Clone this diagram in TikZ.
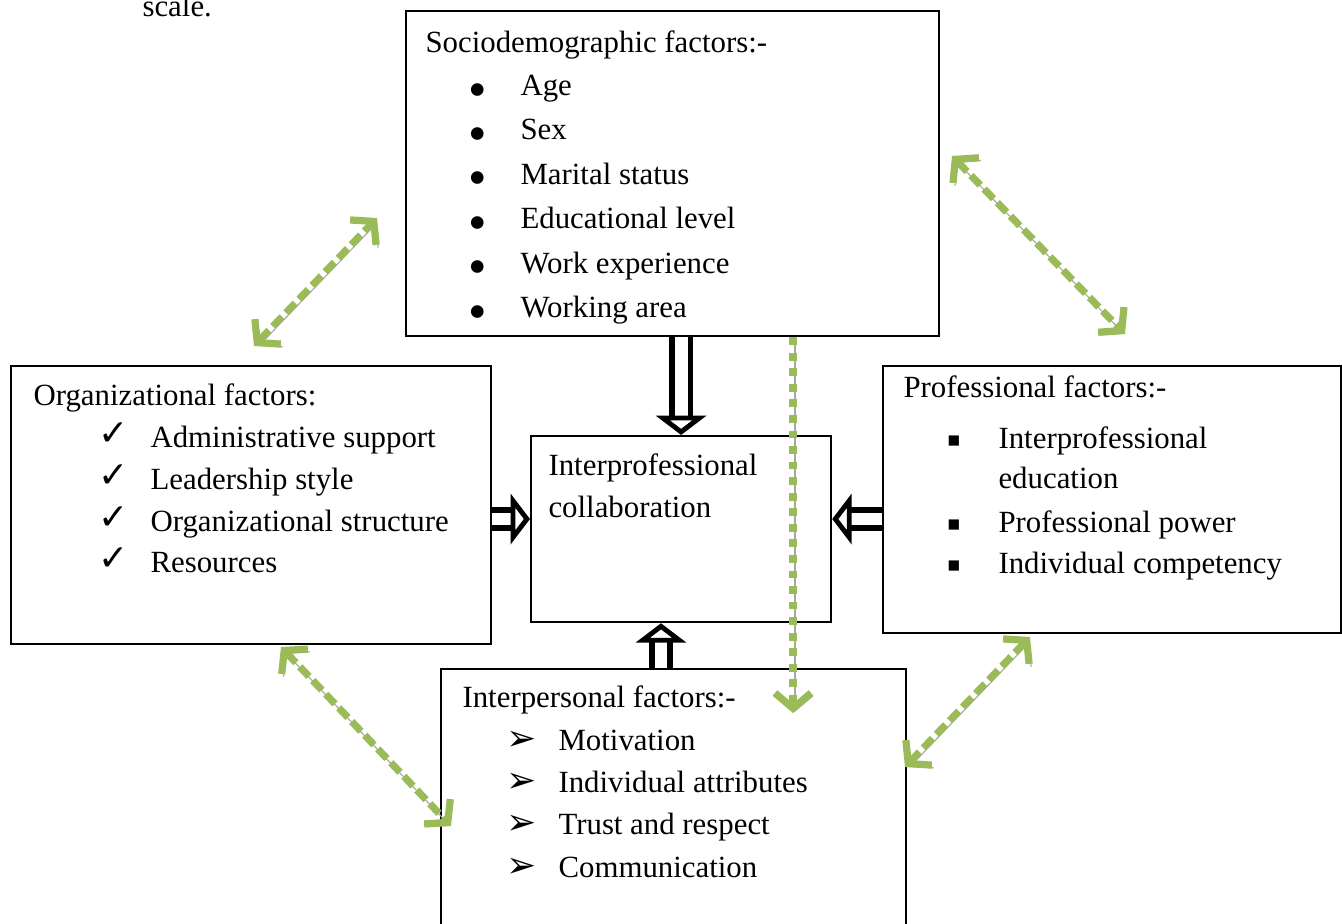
\documentclass[tikz,border=0pt]{standalone}
\usepackage{fontspec}
\setmainfont{Liberation Serif}
\newfontfamily\symfont{DejaVu Sans}
\usepackage{tikz}
\usetikzlibrary{arrows.meta}
\usepackage{xcolor}
\definecolor{leaf}{HTML}{9BBB59}
\definecolor{shade}{HTML}{A6A6A6}
\newcommand{\pxu}{0.36pt}

\begin{document}
\begin{tikzpicture}[
  x=\pxu, y=-\pxu,
  font=\fontsize{11.1}{13}\selectfont,
  box/.style={draw, line width=0.8pt, anchor=north west, inner sep=0pt},
  txt/.style={anchor=base west, inner sep=0pt},
  bul/.style={anchor=base, inner sep=0pt},
  hollow/.style={draw, line width=2pt, double=white, double distance=4.6pt,
                 line join=miter,
                 -{Triangle[length=7pt, width=18pt, fill=white, line width=2pt]}},
  link/.style={draw=leaf, line width=2.6pt, dash pattern=on 4.8pt off 2pt,
               {Straight Barb[length=5.5pt, width=13pt]}-{Straight Barb[length=5.5pt, width=13pt]},
               preaction={draw=shade, transform canvas={shift={(0.7pt,-1pt)}}}},
  drop/.style={link, dash pattern=on 2.8pt off 2.8pt,
               -{Straight Barb[length=5.5pt, width=13pt]}}
]
\useasboundingbox (0,0) rectangle (1342,924);
\node[txt] (scl) at (142,16) {scale.};
% the five boxes
\node[box, minimum width=533*\pxu, minimum height=325*\pxu] (socio) at (405,10) {};
\node[box, minimum width=480*\pxu, minimum height=278*\pxu] (org) at (10,365) {};
\node[box, minimum width=300*\pxu, minimum height=186*\pxu] (hub) at (530,435) {};
\node[box, minimum width=458*\pxu, minimum height=267*\pxu] (prof) at (882,365) {};
\node[box, minimum width=465*\pxu, minimum height=257*\pxu] (inter) at (440,668) {};
% box texts
\node[txt] (socio-t) at (425,52) {Sociodemographic factors:-};
\foreach \lbl [count=\i] in {Age, Sex, Marital status, Educational level, Work experience, Working area}{
  \node[bul] (socio-b\i) at (478,62.6+44.4*\i) {\fontsize{19}{19}\selectfont •};
  \node[txt] (socio-\i) at (520,51+44.4*\i) {\lbl};
}
\node[txt] (org-t) at (33,405) {Organizational factors:};
\foreach \lbl [count=\i] in {Administrative support, Leadership style, Organizational structure, Resources}{
  \node[bul] (org-b\i) at (114,404+41.7*\i) {\symfont\fontsize{13}{13}\selectfont ✓};
  \node[txt] (org-\i) at (150,406+41.7*\i) {\lbl};
}
\node[txt] (hub-1) at (548,475) {Interprofessional};
\node[txt] (hub-2) at (548,517) {collaboration};
\node[txt] (prof-t) at (903,397) {Professional factors:-};
\node[bul] (prof-b1) at (954,444) {\symfont\fontsize{4.8}{5}\selectfont ■};
\node[txt] (prof-1) at (998,448) {Interprofessional};
\node[txt] (prof-1a) at (998,488) {education};
\node[bul] (prof-b2) at (954,528) {\symfont\fontsize{4.8}{5}\selectfont ■};
\node[txt] (prof-2) at (998,532) {Professional power};
\node[bul] (prof-b3) at (954,569) {\symfont\fontsize{4.8}{5}\selectfont ■};
\node[txt] (prof-3) at (998,573) {Individual competency};
\node[txt] (inter-t) at (462,707) {Interpersonal factors:-};
\foreach \lbl [count=\i] in {Motivation, Individual attributes, Trust and respect, Communication}{
  \node[bul] (inter-b\i) at (522,708+42.3*\i) {\symfont\fontsize{13}{13}\selectfont ➢};
  \node[txt] (inter-\i) at (558,708+42.3*\i) {\lbl};
}
% hollow arrows into the centre
\coordinate (mid) at (680,519);
\coordinate (low) at (661,640);
\draw[hollow] (socio.south -| hub.north) -- (hub.north);
\draw[hollow] (org.east |- mid) -- (hub.west |- mid);
\draw[hollow] (prof.west |- mid) -- (hub.east |- mid);
\draw[hollow] (inter.north -| low) -- (hub.south -| low);
% green links
\coordinate (ul-a) at (254,346); \coordinate (ul-b) at (377,218);
\coordinate (ur-a) at (952,156); \coordinate (ur-b) at (1125,334);
\coordinate (ll-a) at (281,647); \coordinate (ll-b) at (451,826);
\coordinate (lr-a) at (1030,637); \coordinate (lr-b) at (905,767);
\coordinate (dn) at (793,713);
\draw[link] (ul-a) -- (ul-b);
\draw[link] (ur-a) -- (ur-b);
\draw[link] (ll-a) -- (ll-b);
\draw[link] (lr-a) -- (lr-b);
\draw[drop] (socio.south -| dn) -- (dn);
\end{tikzpicture}
\end{document}
